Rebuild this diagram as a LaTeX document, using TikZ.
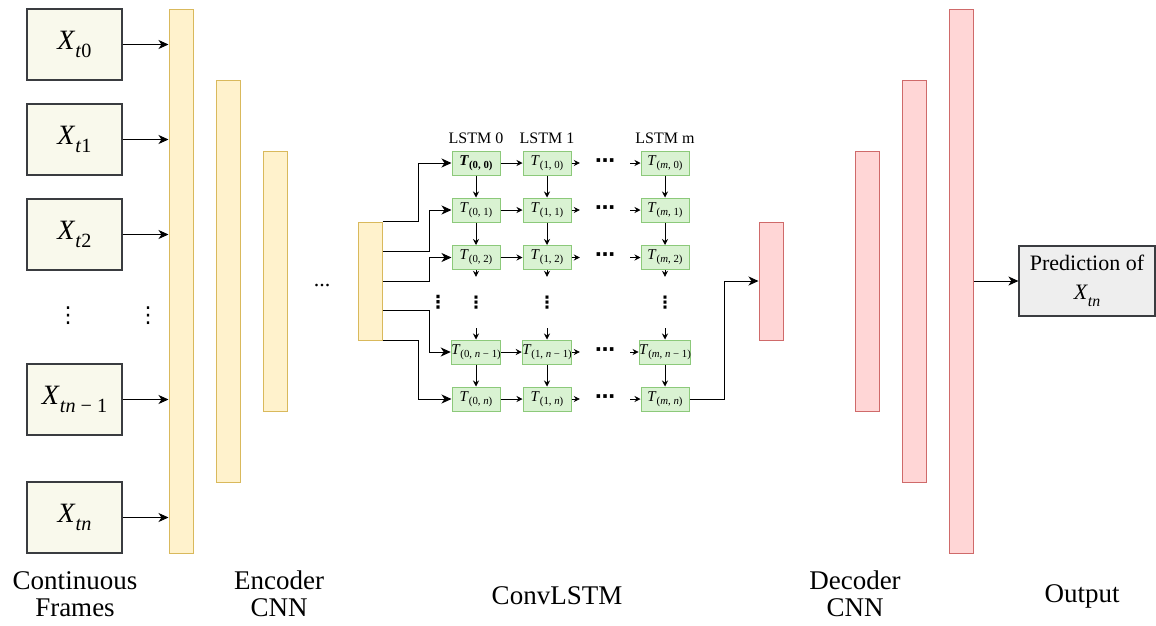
\documentclass[tikz,border=0pt]{standalone}
\usepackage{fontspec}
\setmainfont{Liberation Serif}
\newfontfamily\symfont{DejaVu Sans}
\usetikzlibrary{arrows.meta,calc}

\definecolor{framefill}{HTML}{F9F9EC}
\definecolor{framedraw}{HTML}{3A3C40}
\definecolor{encfill}{HTML}{FFF2CC}
\definecolor{encdraw}{HTML}{D9B95C}
\definecolor{cellfill}{HTML}{D9F2D2}
\definecolor{celldraw}{HTML}{8CC97A}
\definecolor{decfill}{HTML}{FFD6D6}
\definecolor{decdraw}{HTML}{CF6A6A}
\definecolor{outfill}{HTML}{EEEEEE}

% lowered, scaled-down subscript in text mode
\newcommand\lowsub[3][0.7]{\raisebox{#2}{\scalebox{#1}{#3}}}
\newcommand\Xsym[1]{\textit{X}\lowsub[0.72]{-0.3em}{#1}}
\newcommand\Tsym[1]{\textit{T}\lowsub[0.72]{-0.2em}{#1}}
\newcommand\vdotsym{{\symfont ⋮}}
\newcommand\hdotsym{{\symfont ⋯}}

\tikzset{
  framebox/.style={draw=framedraw, fill=framefill, line width=1.2pt,
    minimum width=95pt, minimum height=71pt, inner sep=0pt,
    font=\fontsize{28}{28}\selectfont},
  encbar/.style={draw=encdraw, fill=encfill, line width=1pt,
    minimum width=24pt, inner sep=0pt},
  decbar/.style={draw=decdraw, fill=decfill, line width=1pt,
    minimum width=24pt, inner sep=0pt},
  cell/.style={draw=celldraw, fill=cellfill, line width=1pt,
    minimum width=48pt, minimum height=24pt, inner sep=0pt,
    font=\fontsize{15}{15}\selectfont},
  outbox/.style={draw=framedraw, fill=outfill, line width=1.2pt,
    minimum width=136pt, minimum height=70pt, inner sep=0pt, align=center,
    font=\fontsize{22}{29}\selectfont},
  bigarrow/.style={line width=1pt, -{Stealth[length=10pt,width=9pt,inset=3pt]}},
  smallarrow/.style={line width=0.8pt, -{Stealth[length=6pt,width=6pt,inset=2pt]}},
  caption/.style={align=center, font=\fontsize{27}{27}\selectfont},
  colhead/.style={font=\fontsize{16}{16}\selectfont},
  hdots/.style={minimum width=50pt, inner sep=0pt, font=\fontsize{20}{20}\selectfont\bfseries},
  vdotsnode/.style={minimum height=51pt, inner sep=0pt, font=\fontsize{17}{17}\selectfont\bfseries},
  bigdots/.style={inner sep=0pt, font=\fontsize{22}{22}\selectfont},
}

\begin{document}
\begin{tikzpicture}[x=1pt, y=-1pt]
\useasboundingbox (0,0) rectangle (1156,625);

% input frames
\node[framebox] (f0) at (74.5,44.5)  {\Xsym{\textit{t}0}};
\node[framebox] (f1) at (74.5,139.5) {\Xsym{\textit{t}1}};
\node[framebox] (f2) at (74.5,234.5) {\Xsym{\textit{t}2}};
\node[framebox] (f3) at (74.5,399.5) {\Xsym{\textit{tn} − 1}};
\node[framebox] (f4) at (74.5,517.5) {\Xsym{\textit{tn}}};
\node[bigdots] (fd1) at (68,316) {\vdotsym};
\node[bigdots] (fd2) at (148,316) {\vdotsym};

% encoder CNN
\node[encbar, minimum height=544pt] (e1) at (181,281) {};
\node[encbar, minimum height=402pt] (e2) at (228,281) {};
\node[encbar, minimum height=260pt] (e3) at (275,281) {};
\node[font=\fontsize{22}{22}\selectfont] (edots) at (322,286) {...};
\node[encbar, minimum height=118pt] (ib) at (370,281) {};

\foreach \f in {f0,f1,f2,f3,f4}
  \draw[bigarrow] (\f.east) -- (\f.east -| e1.west);

% ConvLSTM grid
\node[colhead] (h0) at (476,138) {LSTM 0};
\node[colhead] (h1) at (547,138) {LSTM 1};
\node[colhead] (hm) at (665,138) {LSTM m};

\node[cell] (c00) at (476,163) {\textbf{\textit{T}}\lowsub[0.72]{-0.2em}{\bfseries(0, 0)}};
\node[cell] (c10) at (547,163) {\Tsym{(1, 0)}};
\node[cell] (cm0) at (665,163) {\Tsym{(\textit{m}, 0)}};

\node[cell] (c01) at (476,210) {\Tsym{(0, 1)}};
\node[cell] (c11) at (547,210) {\Tsym{(1, 1)}};
\node[cell] (cm1) at (665,210) {\Tsym{(\textit{m}, 1)}};

\node[cell] (c02) at (476,257.5) {\Tsym{(0, 2)}};
\node[cell] (c12) at (547,257.5) {\Tsym{(1, 2)}};
\node[cell] (cm2) at (665,257.5) {\Tsym{(\textit{m}, 2)}};

\node[cell] (c03) at (476,352) {\Tsym{(0, \textit{n} − 1)}};
\node[cell] (c13) at (547,352) {\Tsym{(1, \textit{n} − 1)}};
\node[cell] (cm3) at (665,352) {\Tsym{(\textit{m}, \textit{n} − 1)}};

\node[cell] (c04) at (476,399) {\Tsym{(0, \textit{n})}};
\node[cell] (c14) at (547,399) {\Tsym{(1, \textit{n})}};
\node[cell] (cm4) at (665,399) {\Tsym{(\textit{m}, \textit{n})}};

% horizontal flow along each row
\foreach \r/\y in {0/163,1/210,2/257.5,3/352,4/399} {
  \node[hdots] (hd\r) at (605,\y) {\hdotsym};
  \draw[smallarrow] (c0\r.east) -- (c1\r.west);
  \draw[smallarrow] (c1\r.east) -- (hd\r.west);
  \draw[smallarrow] (hd\r.east) -- (cm\r.west);
}

% vertical flow down each column
\node[vdotsnode] (vd0) at (476,302.5) {\vdotsym};
\node[vdotsnode] (vd1) at (547,302.5) {\vdotsym};
\node[vdotsnode] (vdm) at (665,302.5) {\vdotsym};
\node[inner sep=0pt, font=\fontsize{18}{18}\selectfont\bfseries] (vdl) at (438,302) {\vdotsym};
\foreach \c/\v in {0/vd0,1/vd1,m/vdm} {
  \draw[smallarrow] (c\c0.south) -- (c\c1.north);
  \draw[smallarrow] (c\c1.south) -- (c\c2.north);
  \draw[smallarrow] (c\c2.south) -- (\v.north);
  \draw[smallarrow] (\v.south) -- (c\c3.north);
  \draw[smallarrow] (c\c3.south) -- (c\c4.north);
}

% feeding the encoded features into the first column
\draw[bigarrow] (ib.north east) -- ++(36,0) |- (c00.west);
\draw[bigarrow] ($(ib.north east)!0.25!(ib.south east)$) -- ++(47,0) |- (c01.west);
\draw[bigarrow] (ib.east) -- ++(47,0) |- (c02.west);
\draw[bigarrow] ($(ib.north east)!0.75!(ib.south east)$) -- ++(47,0) |- (c03.west);
\draw[bigarrow] (ib.south east) -- ++(36,0) |- (c04.west);

% decoder CNN
\node[decbar, minimum height=118pt] (d1) at (771,281) {};
\node[decbar, minimum height=260pt] (d2) at (867,281) {};
\node[decbar, minimum height=402pt] (d3) at (914,281) {};
\node[decbar, minimum height=544pt] (d4) at (961,281) {};
\draw[bigarrow] (cm4.east) -- ++(35,0) |- (d1.west);

% output
\node[outbox] (out) at (1087,281) {Prediction of\\\Xsym{\textit{tn}}};
\draw[bigarrow] (d4.east) -- (out.west);

% stage captions
\node[caption] (l1) at (75,594) {Continuous\\Frames};
\node[caption] (l2) at (279,594) {Encoder\\CNN};
\node[caption] (l3) at (557,596) {ConvLSTM};
\node[caption] (l4) at (855,594) {Decoder\\CNN};
\node[caption] (l5) at (1082,596) {Output};
\end{tikzpicture}
\end{document}
